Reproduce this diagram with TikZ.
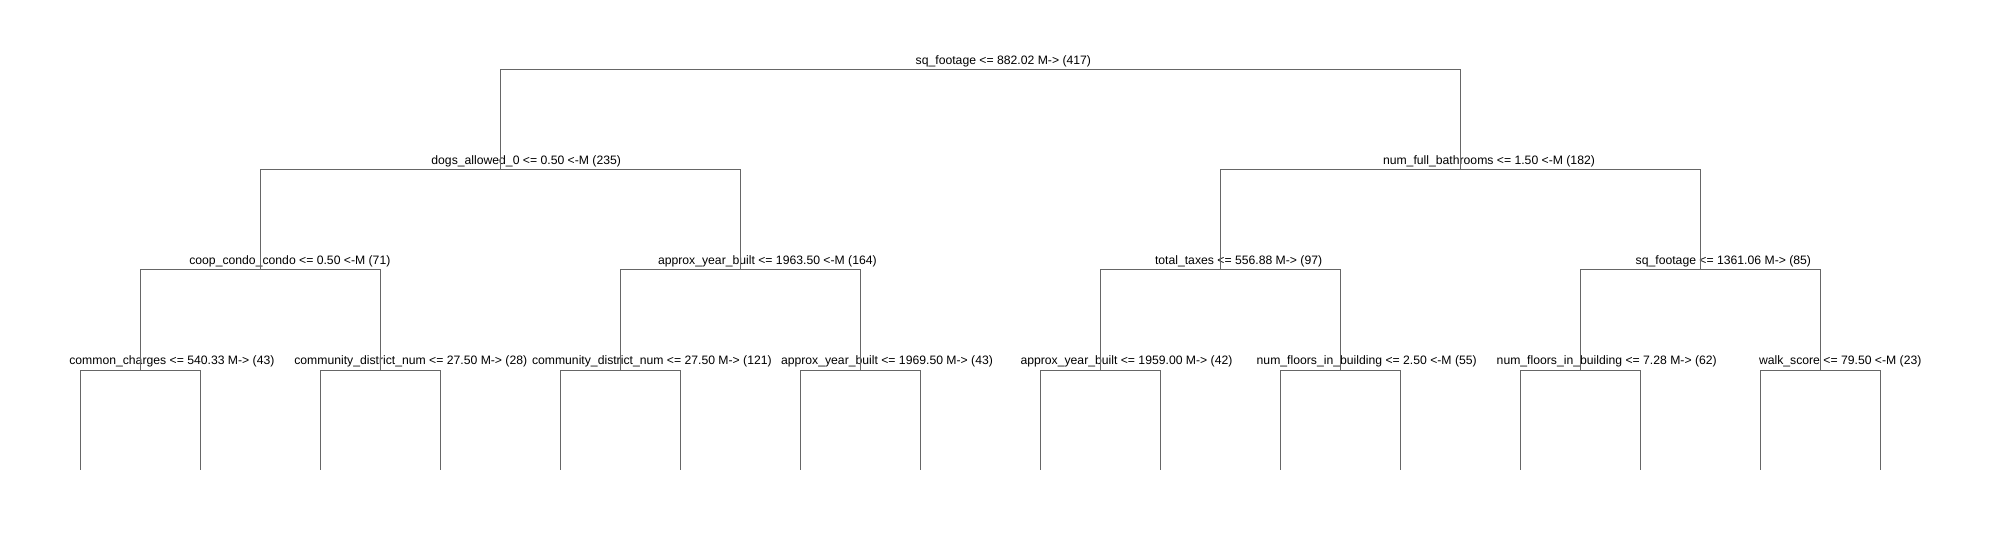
\documentclass[tikz,border=0pt]{standalone}
\usepackage{fontspec}
\setmainfont{Liberation Sans}
\definecolor{edgegray}{HTML}{666666}
\begin{document}
\begin{tikzpicture}[x=1bp,y=-1bp,
  edge/.style={draw=edgegray,line width=1bp},
  lbl/.style={anchor=base west,inner sep=0pt,outer sep=0pt,text=black,font=\fontsize{12.2bp}{14bp}\selectfont}]
\useasboundingbox[fill=white] (0,0) rectangle (1989,540);
% split points
\coordinate (n0) at (980,70);
\coordinate (n1) at (500,170);
\coordinate (n2) at (1460,170);
\coordinate (n3) at (260,270);
\coordinate (n4) at (740,270);
\coordinate (n5) at (1220,270);
\coordinate (n6) at (1700,270);
\coordinate (n7) at (140,370);
\coordinate (n8) at (380,370);
\coordinate (n9) at (620,370);
\coordinate (n10) at (860,370);
\coordinate (n11) at (1100,370);
\coordinate (n12) at (1340,370);
\coordinate (n13) at (1580,370);
\coordinate (n14) at (1820,370);
% leaf ends
\foreach \i in {1,...,16}{\coordinate (l\i) at ({80+120*(\i-1)},470);}
% labels
\node[lbl] (t0) at (915.7,64.8) {sq\_footage <= 882.02 M-> (417)};
\node[lbl] (t1) at (431.4,164.5) {dogs\_allowed\_0 <= 0.50 <-M (235)};
\node[lbl] (t2) at (1383,164.5) {num\_full\_bathrooms <= 1.50 <-M (182)};
\node[lbl] (t3) at (189.3,264.5) {coop\_condo\_condo <= 0.50 <-M (71)};
\node[lbl] (t4) at (658,264.5) {approx\_year\_built <= 1963.50 <-M (164)};
\node[lbl] (t5) at (1155,264.5) {total\_taxes <= 556.88 M-> (97)};
\node[lbl] (t6) at (1635.7,264.5) {sq\_footage <= 1361.06 M-> (85)};
\node[lbl] (t7) at (69.3,364.5) {common\_charges <= 540.33 M-> (43)};
\node[lbl] (t8) at (294.3,364.5) {community\_district\_num <= 27.50 M-> (28)};
\node[lbl] (t9) at (532,364.5) {community\_district\_num <= 27.50 M-> (121)};
\node[lbl] (t10) at (781,364.5) {approx\_year\_built <= 1969.50 M-> (43)};
\node[lbl] (t11) at (1020.5,364.5) {approx\_year\_built <= 1959.00 M-> (42)};
\node[lbl] (t12) at (1256.7,364.5) {num\_floors\_in\_building <= 2.50 <-M (55)};
\node[lbl] (t13) at (1496.7,364.5) {num\_floors\_in\_building <= 7.28 M-> (62)};
\node[lbl] (t14) at (1759,364.5) {walk\_score <= 79.50 <-M (23)};
% connectors
\draw[edge] (n0) -| (n1);
\draw[edge] (n0) -| (n2);
\draw[edge] (n1) -| (n3);
\draw[edge] (n1) -| (n4);
\draw[edge] (n2) -| (n5);
\draw[edge] (n2) -| (n6);
\draw[edge] (n3) -| (n7);
\draw[edge] (n3) -| (n8);
\draw[edge] (n4) -| (n9);
\draw[edge] (n4) -| (n10);
\draw[edge] (n5) -| (n11);
\draw[edge] (n5) -| (n12);
\draw[edge] (n6) -| (n13);
\draw[edge] (n6) -| (n14);
\draw[edge] (n7) -| (l1);
\draw[edge] (n7) -| (l2);
\draw[edge] (n8) -| (l3);
\draw[edge] (n8) -| (l4);
\draw[edge] (n9) -| (l5);
\draw[edge] (n9) -| (l6);
\draw[edge] (n10) -| (l7);
\draw[edge] (n10) -| (l8);
\draw[edge] (n11) -| (l9);
\draw[edge] (n11) -| (l10);
\draw[edge] (n12) -| (l11);
\draw[edge] (n12) -| (l12);
\draw[edge] (n13) -| (l13);
\draw[edge] (n13) -| (l14);
\draw[edge] (n14) -| (l15);
\draw[edge] (n14) -| (l16);
\end{tikzpicture}
\end{document}
